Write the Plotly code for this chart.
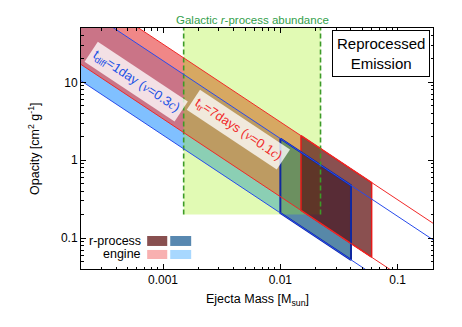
import numpy as np
import plotly.graph_objects as go

# ---------------- data ----------------
mass_range = [2e-4, 0.2]          # x-axis extent [Msun]
opacity_range = [0.04, 50]        # y-axis extent [cm^2 g^-1]

# kappa * M constants of the band edges (upper edge, lower edge)
tr7_kM = [0.031, 0.0034]          # t_tr = 7 days (v = 0.1c)   -> red
diff1_kM = [0.019, 0.0021]        # t_diff = 1 day (v = 0.3c)  -> blue

engine_red_mass = [2e-4, 0.015]
engine_blue_mass = [2e-4, 0.01]
rproc_red_mass = [0.015, 0.06]
rproc_blue_mass = [0.01, 0.04]

galactic_mass = [0.0015, 0.022]
galactic_kappa = [0.2, 50]

x_ticks = [0.001, 0.01, 0.1]
x_ticktext = ["0.001", "0.01", "0.1"]
y_ticks = [0.1, 1, 10]
y_ticktext = ["0.1", "1", "10"]

label_diff_pos = [5.9e-4, 10.4]
label_tr_pos = [4.37e-3, 2.49]

# ---------------- style ----------------
FONT = "Liberation Sans, Arial, sans-serif"
SERIF = "Liberation Serif"
c_light_blue = "rgb(128,192,255)"
c_light_red = "rgba(234,84,84,0.7)"
c_dark_blue = "rgba(16,85,131,0.7)"
c_green = "rgba(161,239,21,0.32)"
c_dark_red = "rgba(88,5,5,0.7)"
c_line_red = "rgb(240,40,40)"
c_line_blue = "rgb(40,75,235)"
c_border_blue = "rgb(16,40,160)"
c_border_red = "rgb(230,25,25)"
c_dash_green = "rgb(60,155,40)"

# page body has an 8px margin, so the figure is 8px smaller than the window
W, H = 454, 319
ML, MR, MT, MB = 73, 29, 20, 58


def band(masses, kM):
    m0, m1 = masses
    up, lo = kM
    xs = [m0, m1, m1, m0, m0]
    ys = [up / m0, up / m1, lo / m1, lo / m0, up / m0]
    return xs, ys


fig = go.Figure()

def poly(xs, ys, fill, line_color=None, line_width=0, dash=None):
    fig.add_trace(go.Scatter(
        x=xs, y=ys, mode="lines", fill="toself" if fill else "none",
        fillcolor=fill, hoverinfo="skip", showlegend=False,
        line=dict(color=line_color or "rgba(0,0,0,0)", width=line_width, dash=dash)))

# engine bands
xs, ys = band(engine_blue_mass, diff1_kM)
poly(xs, ys, c_light_blue)
xs, ys = band(engine_red_mass, tr7_kM)
poly(xs, ys, c_light_red)
# r-process blue fill
xs_b, ys_b = band(rproc_blue_mass, diff1_kM)
poly(xs_b, ys_b, c_dark_blue)
# galactic r-process abundance
gx = [galactic_mass[0], galactic_mass[1], galactic_mass[1], galactic_mass[0], galactic_mass[0]]
gy = [galactic_kappa[0], galactic_kappa[0], galactic_kappa[1], galactic_kappa[1], galactic_kappa[0]]
poly(gx, gy, c_green)
# r-process red
xs, ys = band(rproc_red_mass, tr7_kM)
poly(xs, ys, c_dark_red, c_border_red, 1.5)
# r-process blue border
poly(xs_b, ys_b, None, c_border_blue, 2)
# dashed limits
for m in galactic_mass:
    poly([m, m], galactic_kappa, None, c_dash_green, 1.6, "5px,3px")
# thin full-range lines
for k in tr7_kM:
    poly(mass_range, [k / m for m in mass_range], None, c_line_red, 1)
for k in diff1_kM:
    poly(mass_range, [k / m for m in mass_range], None, c_line_blue, 1)

# geometry for label angle
pw, ph = W - ML - MR, H - MT - MB
xdec = np.log10(mass_range[1] / mass_range[0])
ydec = np.log10(opacity_range[1] / opacity_range[0])
angle = float(np.degrees(np.arctan((ph / ydec) / (pw / xdec))))

def it(s):
    return f'<span style="font-family:{SERIF};font-style:italic">{s}</span>'

C = dict(xanchor="center", yanchor="middle", showarrow=False)
ann = []
ann.append(dict(x=np.log10(label_diff_pos[0]), y=np.log10(label_diff_pos[1]), xref="x", yref="y",
                text=f"t<sub>diff</sub>=1day ({it('v')}=0.3{it('c')})", textangle=angle,
                font=dict(family=FONT, size=13, color="rgb(25,80,230)"),
                bgcolor="rgba(255,255,255,0.78)", borderpad=3, **C))
ann.append(dict(x=np.log10(label_tr_pos[0]), y=np.log10(label_tr_pos[1]), xref="x", yref="y",
                text=f"t<sub>tr</sub>=7days ({it('v')}=0.1{it('c')})", textangle=angle,
                font=dict(family=FONT, size=13, color="rgb(240,40,40)"),
                bgcolor="rgba(255,255,255,0.78)", borderpad=3, **C))
ann.append(dict(x=0.852, y=0.893, xref="paper", yref="paper",
                text="Reprocessed<br>Emission", font=dict(family=FONT, size=15, color="black"),
                bgcolor="white", bordercolor="black", borderwidth=1, borderpad=4, **C))
ann.append(dict(x=float(np.mean(np.log10(galactic_mass))), y=1.034, xref="x", yref="paper",
                text="Galactic <i>r</i>-process abundance",
                font=dict(family=FONT, size=11.5, color="rgb(50,160,75)"), **C))
ann.append(dict(x=0.5, y=-0.129, xref="paper", yref="paper",
                text="Ejecta Mass [M<sub>sun</sub>]", font=dict(family=FONT, size=12.5, color="black"), **C))
ann.append(dict(x=-0.135, y=0.5, xref="paper", yref="paper", textangle=-90,
                text="Opacity [cm<sup>2</sup> g<sup>-1</sup>]", font=dict(family=FONT, size=12.5, color="black"), **C))
# legend
ann.append(dict(x=0.1767, y=0.1163, xref="paper", yref="paper", xanchor="right", yanchor="middle",
                showarrow=False, text="r-process", font=dict(family=FONT, size=12.5, color="black")))
ann.append(dict(x=0.1767, y=0.0602, xref="paper", yref="paper", xanchor="right", yanchor="middle",
                showarrow=False, text="engine", font=dict(family=FONT, size=12.5, color="black")))

shapes = []
sw = [("rgb(136,80,80)", 0.188, 0.245, 0.0956, 0.137),
      ("rgb(88,136,176)", 0.2535, 0.313, 0.0956, 0.137),
      ("rgb(248,176,176)", 0.188, 0.245, 0.0415, 0.079),
      ("rgb(168,216,255)", 0.2535, 0.313, 0.0415, 0.079)]
for col, x0, x1, y0, y1 in sw:
    shapes.append(dict(type="rect", xref="paper", yref="paper", x0=x0, x1=x1, y0=y0, y1=y1,
                       fillcolor=col, line=dict(width=0)))

minor_x = [d * 10.0 ** e for e in range(-4, 0) for d in range(2, 10)]
minor_y = [d * 10.0 ** e for e in range(-2, 2) for d in range(2, 10)]

axis_common = dict(type="log", showline=True, linecolor="black", linewidth=1, mirror="allticks",
                   ticks="inside", ticklen=5, tickcolor="black", tickwidth=1, showgrid=False,
                   zeroline=False, tickfont=dict(family=FONT, size=12, color="black"))

fig.update_layout(
    width=W, height=H, margin=dict(l=ML, r=MR, t=MT, b=MB),
    plot_bgcolor="white", paper_bgcolor="white", showlegend=False,
    xaxis=dict(range=[np.log10(mass_range[0]), np.log10(mass_range[1])], tickmode="array",
               tickvals=x_ticks, ticktext=x_ticktext,
               minor=dict(ticks="inside", ticklen=2.5, tickcolor="black", tickmode="array",
                          tickvals=minor_x, showgrid=False), **axis_common),
    yaxis=dict(range=[np.log10(opacity_range[0]), np.log10(opacity_range[1])], tickmode="array",
               tickvals=y_ticks, ticktext=y_ticktext,
               minor=dict(ticks="inside", ticklen=2.5, tickcolor="black", tickmode="array",
                          tickvals=minor_y, showgrid=False), **axis_common),
    annotations=ann, shapes=shapes,
)

fig.write_html("out.html")
